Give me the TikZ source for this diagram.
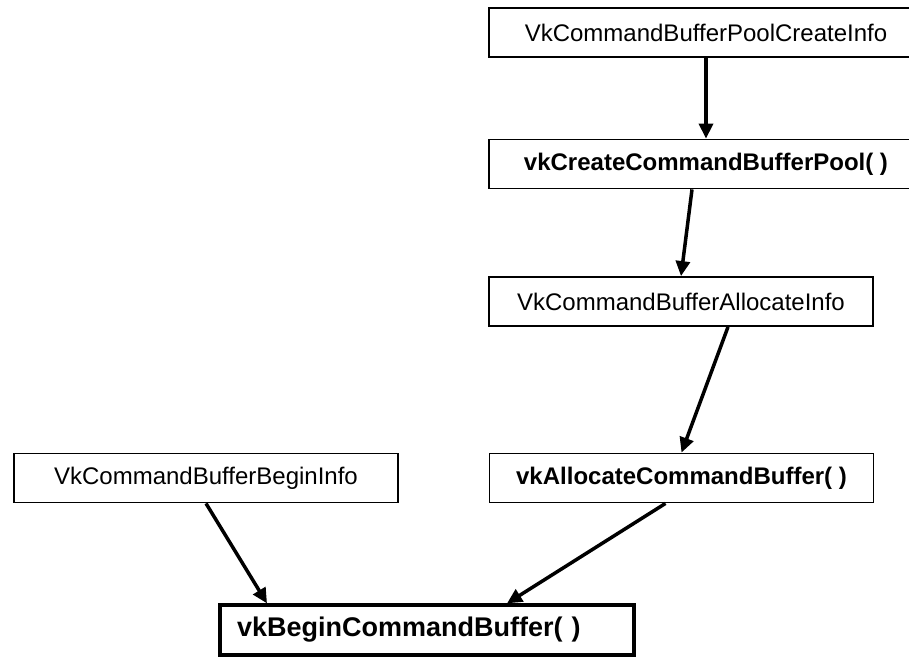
\documentclass[tikz,border=0pt]{standalone}
\usepackage{fontspec}
\setmainfont{Liberation Sans}
\usepackage{tikz}
\usetikzlibrary{arrows.meta, positioning, calc}

\tikzset{
  infobox/.style={rectangle, draw=black, line width=1.8pt, fill=white,
                  minimum height=49pt, inner sep=0pt,
                  font=\fontsize{24}{28}\selectfont},
  callbox/.style={infobox, font=\fontsize{24}{28}\selectfont\bfseries},
  flow/.style={line width=3.5pt, -{Triangle[length=15pt, width=14pt]}}
}

\begin{document}
\begin{tikzpicture}[x=1pt, y=-1pt]
  \path[use as bounding box, clip] (0,0) rectangle (909,656);

  % pool creation
  \node[infobox, minimum width=434pt] (poolinfo) at (706,32.5) {VkCommandBufferPoolCreateInfo};
  \node[callbox, minimum width=434pt] (createpool) at (706,164) {vkCreateCommandBufferPool( )};

  % allocation
  \node[infobox, minimum width=384pt] (allocinfo) at (681,301.5) {VkCommandBufferAllocateInfo};
  \node[callbox, minimum width=384pt] (allocbuf) at (681.5,478) {vkAllocateCommandBuffer( )};

  % begin recording
  \node[infobox, minimum width=384pt] (begininfo) at (206,478) {VkCommandBufferBeginInfo};
  \node[rectangle, draw=black, line width=3.3pt, fill=white, minimum height=50pt,
        text width=380pt, inner xsep=17pt, inner ysep=0pt, align=left,
        font=\fontsize{27}{31}\selectfont\bfseries] (beginbuf) at (427,630) {vkBeginCommandBuffer( )};

  \draw[flow] (poolinfo.south) -- (createpool.north);
  \draw[flow] ([xshift=-14pt]createpool.south) -- (allocinfo.north);
  \draw[flow] ([xshift=47pt]allocinfo.south) -- (allocbuf.north);
  \draw[flow] ([xshift=-16pt]allocbuf.south) -- ([xshift=80pt]beginbuf.north);
  \draw[flow] (begininfo.south) -- ([xshift=-160pt]beginbuf.north);
\end{tikzpicture}
\end{document}
